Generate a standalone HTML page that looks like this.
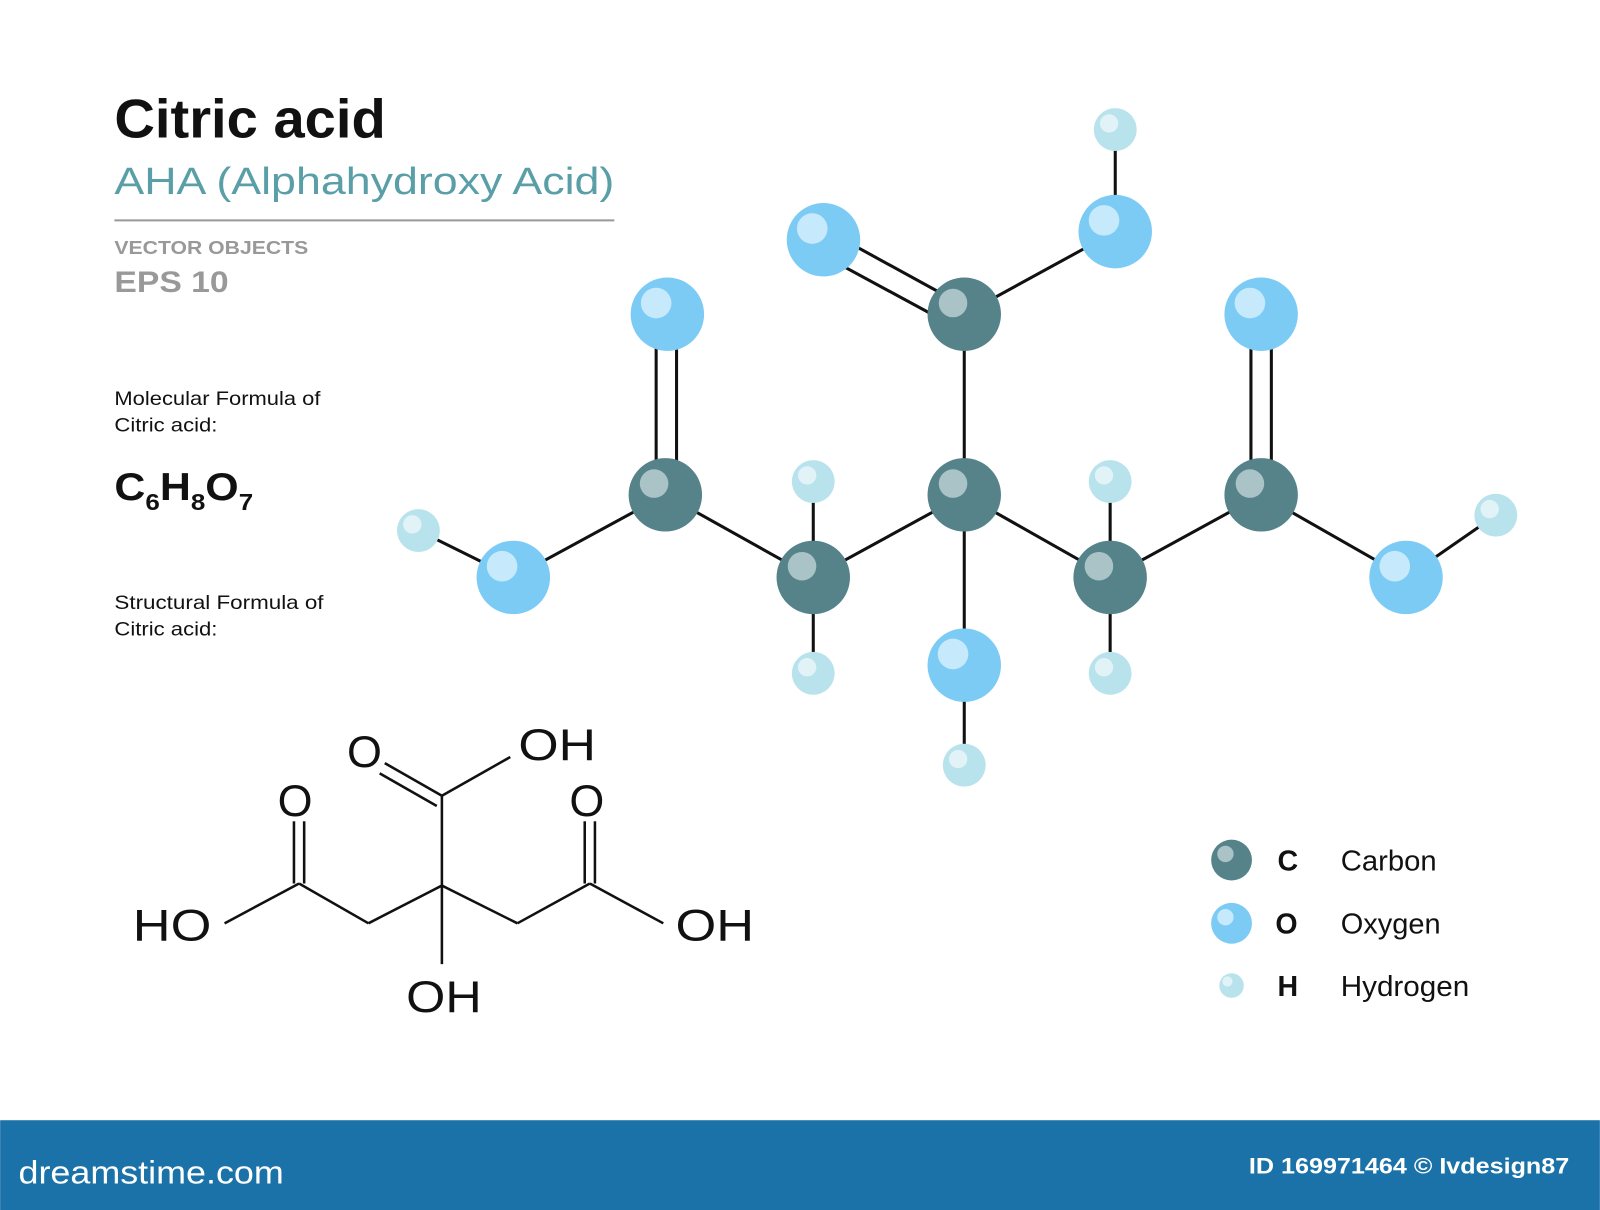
<!DOCTYPE html>
<html><head><meta charset="utf-8"><style>
html,body{margin:0;padding:0;background:#fff;width:1600px;height:1210px;overflow:hidden}
svg{display:block}
text{font-family:"Liberation Sans",sans-serif}
</style></head><body>
<svg width="1600" height="1210" viewBox="0 0 1568 1186" xmlns="http://www.w3.org/2000/svg">
<rect width="1568" height="1186" fill="#fff"/>
<text x="112" y="135" font-size="54" font-weight="bold" fill="#111" textLength="266" lengthAdjust="spacingAndGlyphs">Citric acid</text>
<text x="112" y="190" font-size="37" fill="#5a9fa8" textLength="490" lengthAdjust="spacingAndGlyphs">AHA  (Alphahydroxy Acid)</text>
<line x1="112" y1="216" x2="602" y2="216" stroke="#999" stroke-width="2"/>
<text x="112" y="249" font-size="18" font-weight="bold" fill="#999" textLength="190" lengthAdjust="spacingAndGlyphs">VECTOR OBJECTS</text>
<text x="112" y="286" font-size="29" font-weight="bold" fill="#999" textLength="112" lengthAdjust="spacingAndGlyphs">EPS 10</text>
<text x="112" y="397" font-size="19" fill="#111" textLength="202" lengthAdjust="spacingAndGlyphs">Molecular Formula of</text>
<text x="112" y="423" font-size="19" fill="#111" textLength="101" lengthAdjust="spacingAndGlyphs">Citric acid:</text>
<text x="112" y="490" font-size="38" font-weight="bold" fill="#111" textLength="136" lengthAdjust="spacingAndGlyphs">C<tspan font-size="23" dy="10">6</tspan><tspan dy="-10">H</tspan><tspan font-size="23" dy="10">8</tspan><tspan dy="-10">O</tspan><tspan font-size="23" dy="10">7</tspan></text>
<text x="112" y="597" font-size="19" fill="#111" textLength="205" lengthAdjust="spacingAndGlyphs">Structural  Formula of</text>
<text x="112" y="623" font-size="19" fill="#111" textLength="101" lengthAdjust="spacingAndGlyphs">Citric acid:</text>

<g stroke="#111" stroke-width="3" fill="none">
<line x1="938" y1="296" x2="803" y2="222"/><line x1="928" y1="316" x2="795" y2="244"/>
<line x1="945" y1="308" x2="1093" y2="227"/>
<line x1="1093" y1="227" x2="1093" y2="127"/>
<line x1="945" y1="308" x2="945" y2="485"/>
<line x1="643" y1="485" x2="643" y2="308"/><line x1="663" y1="485" x2="663" y2="308"/>
<line x1="652" y1="485" x2="503" y2="566"/>
<line x1="503" y1="566" x2="410" y2="520"/>
<line x1="652" y1="485" x2="797" y2="566"/>
<line x1="797" y1="472" x2="797" y2="660"/>
<line x1="797" y1="566" x2="945" y2="485"/>
<line x1="945" y1="485" x2="1088" y2="566"/>
<line x1="945" y1="485" x2="945" y2="750"/>
<line x1="1088" y1="472" x2="1088" y2="660"/>
<line x1="1088" y1="566" x2="1236" y2="485"/>
<line x1="1226" y1="485" x2="1226" y2="308"/><line x1="1246" y1="485" x2="1246" y2="308"/>
<line x1="1236" y1="485" x2="1378" y2="566"/>
<line x1="1378" y1="566" x2="1466" y2="505"/>
</g>
<g fill="#b8e2ec">
<circle cx="1093" cy="127" r="21"/><circle cx="410" cy="520" r="21"/><circle cx="797" cy="472" r="21"/><circle cx="1088" cy="472" r="21"/><circle cx="797" cy="660" r="21"/><circle cx="1088" cy="660" r="21"/><circle cx="945" cy="750" r="21"/><circle cx="1466" cy="505" r="21"/>
</g>
<g fill="#e2f3f7">
<circle cx="1087" cy="121" r="9"/><circle cx="404" cy="514" r="9"/><circle cx="791" cy="466" r="9"/><circle cx="1082" cy="466" r="9"/><circle cx="791" cy="654" r="9"/><circle cx="1082" cy="654" r="9"/><circle cx="939" cy="744" r="9"/><circle cx="1460" cy="499" r="9"/>
</g>
<g fill="#7ccbf5">
<circle cx="807" cy="235" r="36"/><circle cx="1093" cy="227" r="36"/><circle cx="654" cy="308" r="36"/><circle cx="1236" cy="308" r="36"/><circle cx="503" cy="566" r="36"/><circle cx="1378" cy="566" r="36"/><circle cx="945" cy="652" r="36"/>
</g>
<g fill="#c6e9fb">
<circle cx="796" cy="224" r="15"/><circle cx="1082" cy="216" r="15"/><circle cx="643" cy="297" r="15"/><circle cx="1225" cy="297" r="15"/><circle cx="492" cy="555" r="15"/><circle cx="1367" cy="555" r="15"/><circle cx="934" cy="641" r="15"/>
</g>
<g fill="#56838a">
<circle cx="945" cy="308" r="36"/><circle cx="652" cy="485" r="36"/><circle cx="945" cy="485" r="36"/><circle cx="1236" cy="485" r="36"/><circle cx="797" cy="566" r="36"/><circle cx="1088" cy="566" r="36"/>
</g>
<g fill="#a9c3c7">
<circle cx="934" cy="297" r="14"/><circle cx="641" cy="474" r="14"/><circle cx="934" cy="474" r="14"/><circle cx="1225" cy="474" r="14"/><circle cx="786" cy="555" r="14"/><circle cx="1077" cy="555" r="14"/>
</g>

<g stroke="#111" stroke-width="2.5" fill="none">
<line x1="433" y1="868" x2="433" y2="780"/>
<line x1="433" y1="780" x2="377" y2="748"/><line x1="428" y1="790" x2="372" y2="758"/>
<line x1="433" y1="780" x2="500" y2="742"/>
<line x1="433" y1="868" x2="361" y2="905"/>
<line x1="361" y1="905" x2="293" y2="866"/>
<line x1="288" y1="866" x2="288" y2="805"/><line x1="298" y1="866" x2="298" y2="805"/>
<line x1="293" y1="866" x2="220" y2="905"/>
<line x1="433" y1="868" x2="507" y2="905"/>
<line x1="507" y1="905" x2="578" y2="866"/>
<line x1="573" y1="866" x2="573" y2="805"/><line x1="583" y1="866" x2="583" y2="805"/>
<line x1="578" y1="866" x2="650" y2="905"/>
<line x1="433" y1="868" x2="433" y2="945"/>
</g>
<g font-size="44" fill="#111">
<text x="340" y="752">O</text>
<text x="508" y="745" textLength="76" lengthAdjust="spacingAndGlyphs">OH</text>
<text x="272" y="800">O</text>
<text x="558" y="800">O</text>
<text x="130" y="922" textLength="77" lengthAdjust="spacingAndGlyphs">HO</text>
<text x="662" y="922" textLength="77" lengthAdjust="spacingAndGlyphs">OH</text>
<text x="398" y="992" textLength="74" lengthAdjust="spacingAndGlyphs">OH</text>
</g>

<circle cx="1207" cy="843" r="20" fill="#56838a"/><circle cx="1201" cy="837" r="8" fill="#a9c3c7"/>
<circle cx="1207" cy="905" r="20" fill="#7ccbf5"/><circle cx="1201" cy="899" r="8" fill="#c6e9fb"/>
<circle cx="1207" cy="966" r="12" fill="#b8e2ec"/><circle cx="1203" cy="962" r="5" fill="#e2f3f7"/>
<g font-size="28" fill="#111">
<text x="1252" y="853" font-weight="bold">C</text><text x="1314" y="853" textLength="94" lengthAdjust="spacingAndGlyphs">Carbon</text>
<text x="1250" y="915" font-weight="bold">O</text><text x="1314" y="915" textLength="98" lengthAdjust="spacingAndGlyphs">Oxygen</text>
<text x="1252" y="976" font-weight="bold">H</text><text x="1314" y="976" textLength="126" lengthAdjust="spacingAndGlyphs">Hydrogen</text>
</g>

<rect x="0" y="1098" width="1568" height="88" fill="#1a72a8"/>
<text x="18" y="1160" font-size="32" fill="#fff" textLength="260" lengthAdjust="spacingAndGlyphs">dreamstime.com</text>
<text x="1224" y="1150" font-size="22" font-weight="bold" fill="#fff" textLength="314" lengthAdjust="spacingAndGlyphs">ID 169971464 © Ivdesign87</text>
</svg>
</body></html>
